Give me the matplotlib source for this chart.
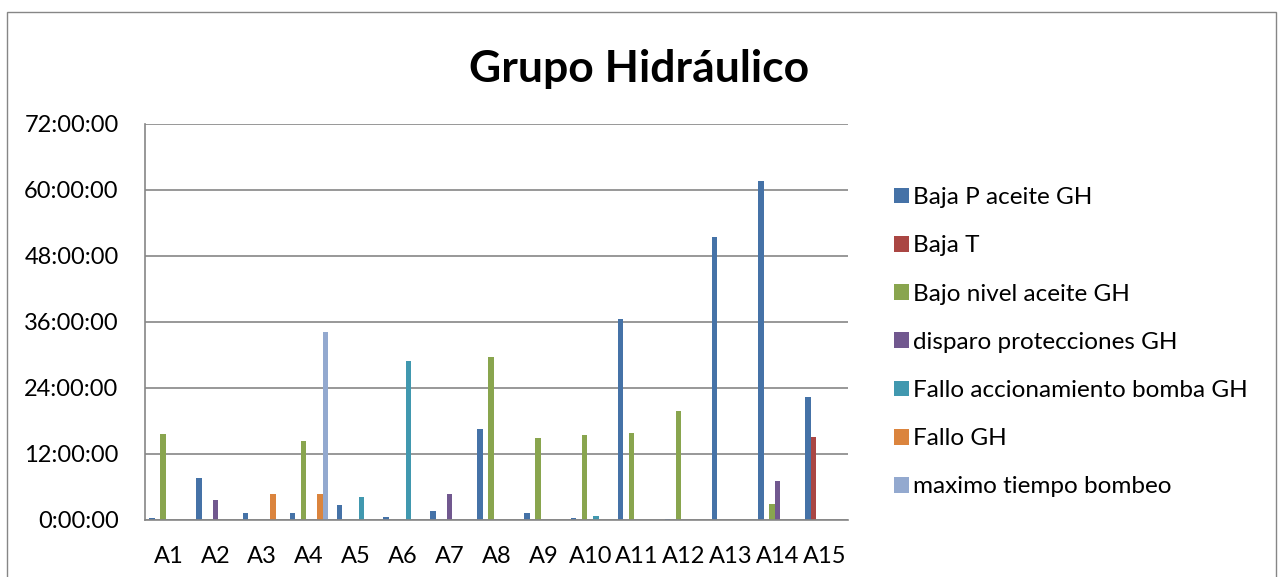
import matplotlib
matplotlib.use('Agg')
import matplotlib.pyplot as plt
import numpy as np
from matplotlib.patches import Rectangle

plt.rcParams['font.family'] = ['Lato', 'DejaVu Sans']

# datos en horas
categorias = ['A1', 'A2', 'A3', 'A4', 'A5', 'A6', 'A7', 'A8', 'A9', 'A10', 'A11', 'A12', 'A13', 'A14', 'A15']
baja_p_aceite = [0.4, 7.6, 1.2, 1.2, 2.8, 0.6, 1.6, 16.6, 1.2, 0.3, 36.5, 0.1, 51.4, 61.7, 22.3]
baja_t = [0, 0, 0, 0, 0, 0, 0, 0, 0, 0, 0, 0, 0, 0, 15.1]
bajo_nivel = [15.6, 0, 0, 14.3, 0, 0, 0, 29.6, 14.9, 15.5, 15.8, 19.8, 0, 3.0, 0]
disparo_prot = [0, 3.6, 0, 0, 0, 0, 4.7, 0, 0, 0, 0, 0, 0, 7.1, 0]
fallo_bomba = [0, 0, 0, 0, 4.2, 29.0, 0, 0, 0, 0.7, 0, 0, 0, 0, 0]
fallo_gh = [0, 0, 4.8, 4.8, 0, 0, 0, 0, 0, 0, 0, 0, 0, 0, 0]
max_bombeo = [0, 0, 0, 34.2, 0, 0, 0, 0, 0, 0, 0, 0, 0, 0, 0]

series = [baja_p_aceite, baja_t, bajo_nivel, disparo_prot, fallo_bomba, fallo_gh, max_bombeo]
nombres = ['Baja P aceite GH', 'Baja T', 'Bajo nivel aceite GH', 'disparo protecciones GH',
           'Fallo accionamiento bomba GH', 'Fallo GH', 'maximo tiempo bombeo']
colores = ['#4572A7', '#AA4643', '#89A54E', '#71588F', '#4198AF', '#DB843D', '#93A9CF']

fig = plt.figure(figsize=(12.78, 5.77), dpi=100)
fig.patches.append(Rectangle((7 / 1278, -0.1), 1269 / 1278, 1.1 - 12 / 577, transform=fig.transFigure,
                             fill=False, edgecolor='#868686', linewidth=1.0))

ax = fig.add_axes([145 / 1278, 1 - 520 / 577, 703 / 1278, 396 / 577])

x = np.arange(len(categorias))
w = 1 / 8.5
for i, (vals, nom, col) in enumerate(zip(series, nombres, colores)):
    ax.bar(x + (i - 3) * w, vals, w, color=col, label=nom, edgecolor='none')

ax.set_xlim(-0.5, len(categorias) - 0.5)
ax.set_ylim(0, 72)
ax.set_yticks(np.arange(0, 73, 12))
ax.set_yticklabels(['%d:00:00' % h for h in range(0, 73, 12)])
ax.set_xticks(x)
ax.set_xticklabels(categorias)
ax.tick_params(length=0, labelsize=17, colors='black')
ax.tick_params(axis='y', pad=19)
ax.tick_params(axis='x', pad=19)
ax.yaxis.grid(True, color='#868686', linewidth=1.2)
ax.set_axisbelow(True)
for s in ['top', 'right']:
    ax.spines[s].set_visible(False)
for s in ['left', 'bottom']:
    ax.spines[s].set_color('#868686')
    ax.spines[s].set_linewidth(1.2)

fig.text(0.5, 1 - 69 / 577, 'Grupo Hidráulico', ha='center', va='center', fontsize=32, fontweight='bold')

fig.legend(loc='upper left', bbox_to_anchor=(882 / 1278, 1 - 175 / 577), frameon=False, fontsize=17.5,
           handlelength=0.62, handleheight=0.62, handletextpad=0.15, labelspacing=1.12, borderpad=0)

fig.savefig('out.png', dpi=100)
